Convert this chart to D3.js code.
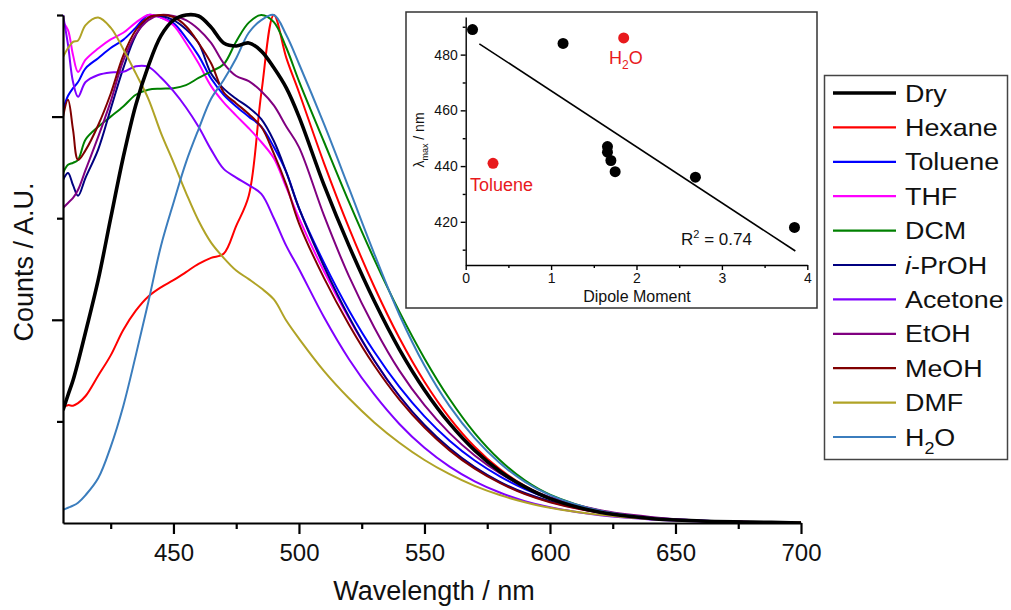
<!DOCTYPE html>
<html>
<head>
<meta charset="utf-8">
<script src="https://cdn.jsdelivr.net/npm/d3@7"></script>
<style>
  body { margin: 0; background: #fff; }
  svg { font-family: "Liberation Sans", Arial, sans-serif; }
</style>
</head>
<body>
<svg id="chart" width="1011" height="610"></svg>
<script>
// emission spectra, normalised counts
const wavelengths = [406,408,410,412,415,420,425,430,435,440,445,450,455,460,465,470,475,480,485,490,495,500,510,520,530,540,550,560,570,580,590,600,620,640,660,680,700];

const dry     = [0.222,0.252,0.281,0.317,0.376,0.478,0.600,0.720,0.823,0.900,0.959,0.990,1.000,0.998,0.976,0.945,0.939,0.945,0.929,0.896,0.856,0.800,0.665,0.545,0.437,0.342,0.262,0.196,0.143,0.102,0.071,0.048,0.021,0.009,0.004,0.002,0.000];
const hexane  = [0.228,0.232,0.231,0.236,0.250,0.290,0.330,0.380,0.418,0.446,0.464,0.478,0.494,0.510,0.522,0.530,0.585,0.644,0.846,1.000,0.915,0.848,0.708,0.580,0.465,0.364,0.278,0.207,0.150,0.106,0.073,0.049,0.022,0.009,0.004,0.002,0.000];
const toluene = [0.813,0.841,0.856,0.868,0.895,0.915,0.935,0.951,0.975,1.000,0.995,0.984,0.955,0.920,0.875,0.843,0.820,0.800,0.780,0.740,0.690,0.620,0.512,0.418,0.337,0.268,0.210,0.162,0.123,0.092,0.067,0.048,0.023,0.011,0.005,0.002,0.001];
const thf     = [0.986,0.970,0.921,0.888,0.912,0.934,0.952,0.965,0.985,1.000,0.995,0.980,0.945,0.905,0.860,0.828,0.802,0.777,0.750,0.718,0.660,0.600,0.495,0.402,0.320,0.250,0.192,0.146,0.109,0.080,0.058,0.042,0.020,0.009,0.004,0.002,0.001];
const dcm     = [0.689,0.705,0.709,0.715,0.755,0.780,0.800,0.820,0.843,0.853,0.855,0.856,0.862,0.876,0.889,0.903,0.948,0.985,1.000,0.986,0.935,0.870,0.750,0.631,0.519,0.416,0.324,0.244,0.177,0.124,0.084,0.056,0.024,0.010,0.004,0.002,0.000];
const iprOH   = [0.675,0.689,0.665,0.644,0.680,0.735,0.815,0.895,0.960,0.995,0.998,0.990,0.972,0.945,0.885,0.855,0.835,0.818,0.795,0.752,0.690,0.620,0.505,0.405,0.320,0.250,0.193,0.147,0.110,0.081,0.059,0.043,0.021,0.010,0.004,0.002,0.001];
const acetone = [1.000,0.941,0.868,0.839,0.868,0.882,0.887,0.888,0.899,0.898,0.877,0.850,0.818,0.780,0.735,0.697,0.680,0.665,0.648,0.600,0.545,0.500,0.405,0.322,0.253,0.195,0.148,0.111,0.082,0.060,0.043,0.031,0.015,0.007,0.003,0.001,0.001];
const etoh    = [0.620,0.630,0.640,0.656,0.695,0.760,0.830,0.910,0.962,0.990,1.000,0.998,0.990,0.972,0.945,0.905,0.880,0.870,0.850,0.822,0.780,0.740,0.605,0.485,0.385,0.300,0.232,0.177,0.133,0.098,0.071,0.051,0.025,0.012,0.005,0.002,0.001];
const meoh    = [0.799,0.833,0.774,0.715,0.734,0.783,0.845,0.920,0.970,0.995,1.000,0.996,0.978,0.945,0.905,0.848,0.826,0.805,0.780,0.727,0.665,0.590,0.482,0.390,0.310,0.243,0.188,0.143,0.107,0.079,0.057,0.041,0.020,0.009,0.004,0.002,0.001];
const dmf     = [0.917,0.935,0.947,0.950,0.980,0.995,0.975,0.933,0.885,0.835,0.768,0.710,0.650,0.595,0.552,0.522,0.497,0.480,0.462,0.440,0.398,0.363,0.299,0.245,0.198,0.158,0.124,0.096,0.073,0.055,0.041,0.030,0.016,0.008,0.004,0.002,0.001];
const water   = [0.026,0.030,0.034,0.040,0.055,0.088,0.150,0.230,0.330,0.435,0.545,0.630,0.710,0.775,0.835,0.872,0.915,0.965,0.990,1.000,0.960,0.904,0.785,0.658,0.530,0.410,0.310,0.230,0.167,0.118,0.081,0.055,0.024,0.010,0.004,0.002,0.000];

const seriesNames  = ["Dry", "Hexane", "Toluene", "THF", "DCM", "i-PrOH", "Acetone", "EtOH", "MeOH", "DMF", "H2O"];
const seriesValues = [dry, hexane, toluene, thf, dcm, iprOH, acetone, etoh, meoh, dmf, water];
const seriesColors = ["#000000", "#ff0000", "#0000ff", "#ff00ff", "#008000", "#000080", "#8000ff", "#800080", "#800000", "#b0a326", "#3b7dbd"];

const xTicks = [450, 500, 550, 600, 650, 700];
const xMinorTicks = [425, 475, 525, 575, 625, 675];
const yTicks = [0.4, 0.8];
const yMinorTicks = [0.2, 0.6, 1.0];

// inset: lambda max vs dipole moment
const dipole    = [0.08, 1.14, 1.66, 1.66, 1.70, 1.75, 2.69, 3.85];
const lambdaMax = [489, 484, 447, 445, 442, 438, 436, 418];
const outlierDipole = [0.32, 1.85];
const outlierLambda = [441, 486];
const fitX = [0.16, 3.86];
const fitSlope = -20.1, fitIntercept = 487.1;
const insetXTicks = [0, 1, 2, 3, 4];
const insetXMinor = [0.5, 1.5, 2.5, 3.5];
const insetYTicks = [420, 440, 460, 480];
const insetYMinor = [410, 430, 450, 470, 490];

const svg = d3.select("#chart");

// ---------- main plot ----------
const x = d3.scaleLinear().domain([406, 700]).range([63, 801]);
const y = d3.scaleLinear().domain([0, 1]).range([523, 15]);

svg.append("clipPath").attr("id", "plotClip")
  .append("rect").attr("x", 63).attr("y", 8).attr("width", 740).attr("height", 516);

const line = d3.line()
  .x(function(d) { return x(d[0]); })
  .y(function(d) { return y(d[1]); })
  .curve(d3.curveCatmullRom.alpha(0.5));

const curves = svg.append("g").attr("clip-path", "url(#plotClip)");
// Dry drawn last so it sits on top
const order = [1, 2, 3, 4, 5, 6, 7, 8, 9, 10, 0];
order.forEach(function(i) {
  curves.append("path")
    .datum(wavelengths.map(function(w, k) { return [w, seriesValues[i][k]]; }))
    .attr("fill", "none")
    .attr("stroke", seriesColors[i])
    .attr("stroke-width", i === 0 ? 3.6 : 2)
    .attr("stroke-linejoin", "round")
    .attr("d", line);
});

function styleAxis(g, w) {
  g.select(".domain").attr("stroke", "#000").attr("stroke-width", w);
  g.selectAll(".tick line").attr("stroke", "#000").attr("stroke-width", w);
}

const gx = svg.append("g").attr("transform", "translate(0,523)")
  .call(d3.axisBottom(x).tickValues(xTicks).tickSize(11).tickSizeOuter(0).tickPadding(10));
styleAxis(gx, 2.2);
gx.selectAll("text").attr("font-size", 24).attr("fill", "#111").attr("font-family", "Liberation Sans, Arial, sans-serif");
const gxm = svg.append("g").attr("transform", "translate(0,523)")
  .call(d3.axisBottom(x).tickValues(xMinorTicks).tickSize(6).tickFormat(""));
styleAxis(gxm, 2.2);
gxm.select(".domain").remove();

const gy = svg.append("g").attr("transform", "translate(63,0)")
  .call(d3.axisLeft(y).tickValues(yTicks).tickSize(11).tickSizeOuter(0).tickFormat(""));
styleAxis(gy, 2.2);
const gym = svg.append("g").attr("transform", "translate(63,0)")
  .call(d3.axisLeft(y).tickValues(yMinorTicks).tickSize(6).tickFormat(""));
styleAxis(gym, 2.2);
gym.select(".domain").remove();

svg.append("text").attr("x", 434).attr("y", 600).attr("text-anchor", "middle")
  .attr("font-size", 27).attr("fill", "#111").text("Wavelength / nm");
svg.append("text").attr("transform", "translate(33,262) rotate(-90)").attr("text-anchor", "middle")
  .attr("font-size", 27).attr("fill", "#111").text("Counts / A.U.");

// ---------- legend ----------
const legend = svg.append("g");
legend.append("rect").attr("x", 824.5).attr("y", 75.5).attr("width", 183).attr("height", 384)
  .attr("fill", "#fff").attr("stroke", "#444").attr("stroke-width", 1.5);
seriesNames.forEach(function(name, i) {
  const ly = 93 + i * 34.4;
  legend.append("line").attr("x1", 833).attr("x2", 896).attr("y1", ly).attr("y2", ly)
    .attr("stroke", seriesColors[i]).attr("stroke-width", i === 0 ? 3.6 : 2.2);
  const t = legend.append("text")
    .attr("transform", "translate(905," + (ly + 8.5) + ") scale(1.12,1)")
    .attr("font-size", 24).attr("fill", "#111");
  if (name === "i-PrOH") {
    t.append("tspan").attr("font-style", "italic").text("i");
    t.append("tspan").text("-PrOH");
  } else if (name === "H2O") {
    t.append("tspan").text("H");
    t.append("tspan").attr("font-size", 16).attr("dy", 8).text("2");
    t.append("tspan").attr("dy", -8).text("O");
  } else {
    t.text(name);
  }
});

// ---------- inset ----------
const inset = svg.append("g");
inset.append("rect").attr("x", 406).attr("y", 12).attr("width", 411).attr("height", 296)
  .attr("fill", "#fff").attr("stroke", "#333").attr("stroke-width", 1.5);

const ix = d3.scaleLinear().domain([0, 4]).range([465.7, 807.3]);
const iy = d3.scaleLinear().domain([404.5, 493.5]).range([265, 17]);

const igx = inset.append("g").attr("transform", "translate(0,265)")
  .call(d3.axisBottom(ix).tickValues(insetXTicks).tickFormat(d3.format("d"))
    .tickSize(5).tickSizeOuter(0).tickPadding(3));
styleAxis(igx, 1.4);
igx.selectAll("text").attr("font-size", 14).attr("fill", "#111").attr("font-family", "Liberation Sans, Arial, sans-serif");
const igxm = inset.append("g").attr("transform", "translate(0,265)")
  .call(d3.axisBottom(ix).tickValues(insetXMinor).tickSize(3).tickFormat(""));
styleAxis(igxm, 1.4);
igxm.select(".domain").remove();

const igy = inset.append("g").attr("transform", "translate(465.7,0)")
  .call(d3.axisLeft(iy).tickValues(insetYTicks).tickSize(5).tickSizeOuter(0).tickPadding(3));
styleAxis(igy, 1.4);
igy.selectAll("text").attr("font-size", 14).attr("fill", "#111").attr("font-family", "Liberation Sans, Arial, sans-serif");
const igym = inset.append("g").attr("transform", "translate(465.7,0)")
  .call(d3.axisLeft(iy).tickValues(insetYMinor).tickSize(3).tickFormat(""));
styleAxis(igym, 1.4);
igym.select(".domain").remove();

inset.append("line")
  .attr("x1", ix(fitX[0])).attr("y1", iy(fitIntercept + fitSlope * fitX[0]))
  .attr("x2", ix(fitX[1])).attr("y2", iy(fitIntercept + fitSlope * fitX[1]))
  .attr("stroke", "#000").attr("stroke-width", 1.6);

inset.selectAll("circle.pt").data(dipole).enter().append("circle")
  .attr("class", "pt")
  .attr("cx", function(d) { return ix(d); })
  .attr("cy", function(d, i) { return iy(lambdaMax[i]); })
  .attr("r", 5.5).attr("fill", "#000");
inset.selectAll("circle.out").data(outlierDipole).enter().append("circle")
  .attr("class", "out")
  .attr("cx", function(d) { return ix(d); })
  .attr("cy", function(d, i) { return iy(outlierLambda[i]); })
  .attr("r", 5.5).attr("fill", "#e8191c");

inset.append("text").attr("x", 470).attr("y", 191).attr("font-size", 18).attr("fill", "#e8191c").text("Toluene");
const h2oLabel = inset.append("text").attr("x", 609).attr("y", 64).attr("font-size", 18).attr("fill", "#e8191c");
h2oLabel.append("tspan").text("H");
h2oLabel.append("tspan").attr("font-size", 12).attr("dy", 5).text("2");
h2oLabel.append("tspan").attr("dy", -5).text("O");

const r2 = inset.append("text").attr("x", 681).attr("y", 245).attr("font-size", 17).attr("fill", "#111");
r2.append("tspan").text("R");
r2.append("tspan").attr("font-size", 11).attr("dy", -7).text("2");
r2.append("tspan").attr("dy", 7).text(" = 0.74");

inset.append("text").attr("x", 637).attr("y", 302).attr("text-anchor", "middle")
  .attr("font-size", 16).attr("fill", "#111").text("Dipole Moment");

const lam = inset.append("text").attr("transform", "translate(424,140) rotate(-90)")
  .attr("text-anchor", "middle").attr("font-size", 14).attr("fill", "#111");
lam.append("tspan").text("\u03bb");
lam.append("tspan").attr("font-size", 9).attr("dy", 4).text("max");
lam.append("tspan").attr("dy", -4).text(" / nm");
</script>
</body>
</html>
